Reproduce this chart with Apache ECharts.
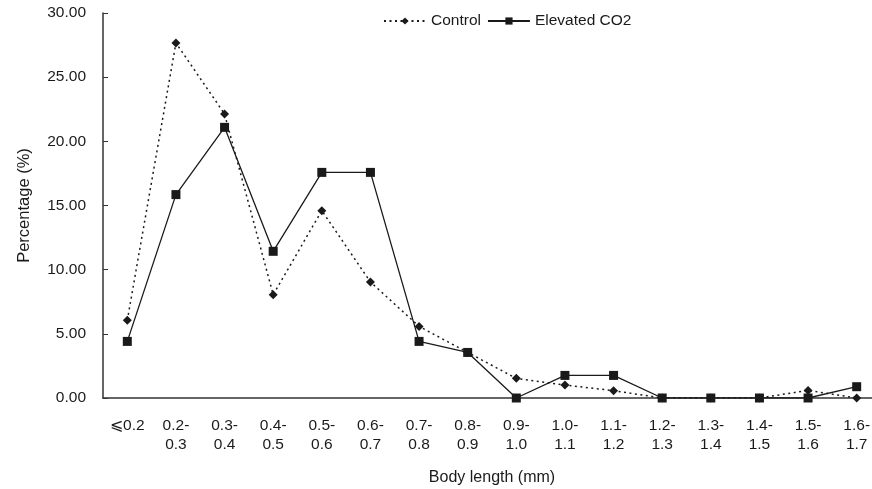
<!DOCTYPE html>
<html>
<head>
<meta charset="utf-8">
<script src="https://cdn.jsdelivr.net/npm/echarts@6/dist/echarts.min.js"></script>
<style>
  html, body { margin: 0; padding: 0; background: #fff; }
  #chart { width: 872px; height: 489px; }
</style>
</head>
<body>
<div id="chart"></div>
<script>
// body length classes (mm)
const categories = [
  "⩽0.2", "0.2-\n0.3", "0.3-\n0.4", "0.4-\n0.5", "0.5-\n0.6", "0.6-\n0.7",
  "0.7-\n0.8", "0.8-\n0.9", "0.9-\n1.0", "1.0-\n1.1", "1.1-\n1.2", "1.2-\n1.3",
  "1.3-\n1.4", "1.4-\n1.5", "1.5-\n1.6", "1.6-\n1.7"
];
const control = [6.06, 27.67, 22.13, 8.05, 14.6, 9.04, 5.58, 3.55, 1.53, 1.01, 0.57, 0, 0, 0, 0.59, 0];
const elevated = [4.41, 15.85, 21.09, 11.43, 17.58, 17.58, 4.41, 3.55, 0, 1.76, 1.76, 0, 0, 0, 0, 0.88];
const yTicks = [0, 5, 10, 15, 20, 25, 30];

const ink = "#1a1a1a";
const font = "Liberation Sans, Arial, sans-serif";

const chart = echarts.init(document.getElementById("chart"), null, { renderer: "canvas" });
chart.setOption({
  animation: false,
  backgroundColor: "#fff",
  textStyle: { fontFamily: font, color: ink },
  legend: {
    left: 383,
    top: 13,
    padding: 0,
    itemWidth: 42,
    itemHeight: 9,
    itemGap: 6,
    textStyle: { fontSize: 15.5, color: ink, fontFamily: font },
    data: ["Control", "Elevated CO2"]
  },
  grid: {
    left: 103,
    top: 13,
    width: 778,
    height: 385,
    outerBoundsMode: "none"
  },
  xAxis: {
    type: "category",
    data: categories,
    boundaryGap: true,
    name: "Body length (mm)",
    nameLocation: "middle",
    nameGap: 72,
    nameTextStyle: { fontSize: 16, color: ink, fontFamily: font },
    axisLine: { lineStyle: { color: "#333", width: 1.5 } },
    axisTick: { inside: true, length: 5, lineStyle: { color: "#333" } },
    axisLabel: {
      margin: 18,
      fontSize: 15.5,
      lineHeight: 19,
      color: ink,
      fontFamily: font,
      interval: 0
    },
    splitLine: { show: false }
  },
  yAxis: {
    type: "value",
    min: yTicks[0],
    max: yTicks[yTicks.length - 1],
    interval: 5,
    name: "Percentage (%)",
    nameLocation: "middle",
    nameGap: 70,
    nameTextStyle: { fontSize: 16.5, color: ink, fontFamily: font },
    axisLine: { show: true, lineStyle: { color: "#333", width: 1.5 } },
    axisTick: { show: true, inside: true, length: 5, lineStyle: { color: "#333" } },
    axisLabel: {
      margin: 17,
      fontSize: 15.5,
      color: ink,
      fontFamily: font,
      formatter: v => v.toFixed(2)
    },
    splitLine: { show: false }
  },
  series: [
    {
      name: "Control",
      type: "line",
      data: control,
      symbol: "diamond",
      symbolSize: 9,
      itemStyle: { color: ink },
      lineStyle: { color: ink, width: 1.5, type: [2, 3.5] },
      z: 2
    },
    {
      name: "Elevated CO2",
      type: "line",
      data: elevated,
      symbol: "rect",
      symbolSize: 9,
      itemStyle: { color: ink },
      lineStyle: { color: ink, width: 1.3, type: "solid" },
      z: 3
    }
  ]
});
</script>
</body>
</html>
